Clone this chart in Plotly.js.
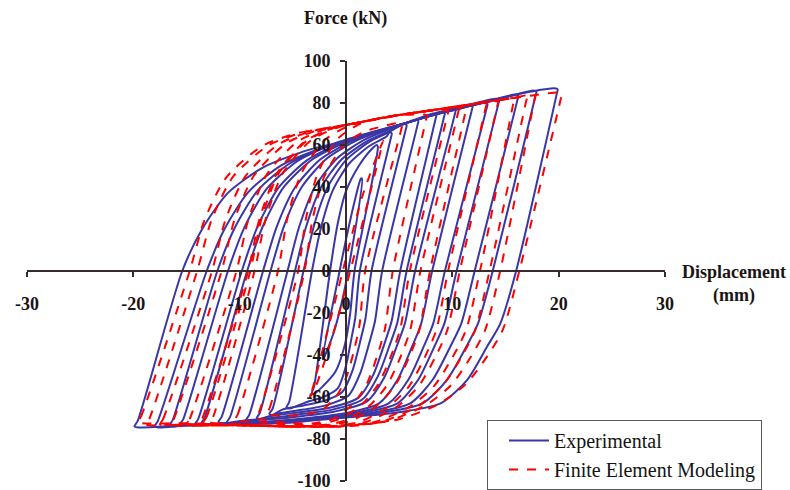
<!DOCTYPE html>
<html>
<head>
<meta charset="utf-8">
<script src="https://cdn.plot.ly/plotly-3.0.1.min.js"></script>
<style>html,body{margin:0;padding:0;background:#fff;}#chart{width:790px;height:490px;}</style>
</head>
<body>
<div id="chart"></div>
<script>
// ---- Data (displacement in mm, force in kN) ----
const xTicks = [-30, -20, -10, 0, 10, 20, 30];
const xTickText = ["-30", "-20", "-10", "0", "10", "20", "30"];
const yTicks = [-100, -80, -60, -40, -20, 0, 20, 40, 60, 80, 100];
const yTickText = ["-100", "-80", "-60", "-40", "-20", "0", "20", "40", "60", "80", "100"];

// Experimental hysteresis loops (one list per loop)
const expX = [
  [-2.2, -0.6, 0, 0.8, 1.4, 1.5, 0.2, -0.4, -1.2, -2.1, -2.2],
  [-3.2, -3.0, -1.5, -0.8, 0, 1.2, 2.4, 2.9, 3.0, 0.8, 0.4, -0.1, -1, -2.2, -3.0, -3.2],
  [-5.6, -5.35, -3.2, -2.36, -1.24, 0.3, 2.19, 3.8, 4.1, 4.3, 4.2, 1.3, 0.87, 0.53, -0.04, -0.76, -2.16, -3.5, -5.3, -5.6],
  [-7.2, -6.9, -4, -3.04, -1.76, 0, 2.16, 4, 5.4, 5.7, 5.6, 2.4, 1.82, 1.38, 0.61, -0.35, -2.21, -4, -6, -6.9, -7.2],
  [-8.4, -8.1, -4.8, -3.74, -2.34, -0.4, 1.98, 4, 6.5, 6.8, 6.7, 3.4, 2.73, 2.22, 1.33, 0.22, -1.93, -4, -6.5, -8, -8.4],
  [-9.4, -9.1, -5.5, -4.38, -2.9, -0.85, 1.66, 3.8, 6, 8.2, 8.5, 8.4, 5.1, 4.28, 3.64, 2.55, 1.19, -1.45, -4, -7, -9, -9.4],
  [-11.2, -10.9, -7.1, -5.83, -4.13, -1.8, 1.06, 3.5, 6, 9, 9.3, 9.2, 5.7, 4.83, 4.15, 2.98, 1.53, -1.28, -4, -7, -10, -10.8, -11.2],
  [-12, -11.7, -7.8, -6.5, -4.78, -2.4, 0.52, 3, 6, 10, 10.3, 10.2, 6.5, 5.55, 4.82, 3.56, 1.98, -1.06, -4, -7, -10, -11.6, -12],
  [-13.6, -13.3, -9.3, -7.82, -5.86, -3.15, 0.17, 3, 6, 9, 11.6, 11.9, 11.8, 8.1, 7.06, 6.24, 4.85, 3.11, -0.25, -3.5, -7, -11, -13.2, -13.6],
  [-14.2, -13.9, -9.8, -8.32, -6.36, -3.65, -0.33, 2.5, 6, 10, 13, 13.3, 13.2, 9.3, 8.19, 7.33, 5.86, 4.01, 0.44, -3, -6, -10, -13.8, -14.2],
  [-15.6, -15.3, -11.1, -9.53, -7.43, -4.55, -1.01, 2, 6, 10, 14.1, 14.4, 14.3, 10.4, 9.24, 8.34, 6.79, 4.85, 1.11, -2.5, -6, -10, -15.2, -15.6],
  [-16.6, -16.3, -12.1, -10.47, -8.29, -5.3, -1.63, 1.5, 4, 8, 12, 15.9, 16.2, 16.1, 12.1, 10.83, 9.84, 8.15, 6.04, 1.95, -2, -5, -10, -14, -16.2, -16.6],
  [-18, -17.7, -13.1, -11.4, -9.15, -6.05, -2.25, 1, 4, 8, 12, 16, 17.6, 17.9, 17.8, 13.8, 12.4, 11.35, 9.5, 7.2, 2.8, -1.5, -5, -10, -15, -17.6, -18],
  [-19.9, -19.6, -15.4, -13.55, -11.1, -7.7, -3.5, 0, 4, 8, 12, 16, 19.6, 19.9, 19.8, 16, 14.5, 13.3, 11.4, 8.9, 4, -0.6, -5, -10, -15, -19.5, -19.9]
];
const expY = [
  [-42, 0, 15, 33, 44, 44, 0, -15, -30, -41.5, -42],
  [-58, -55, 0, 22, 38, 50, 58, 60, 59, 0, -20, -35, -48, -55, -58.5, -58],
  [-65, -62.5, 0, 20.5, 38.4, 51.2, 59.5, 64, 66, 65.5, 63, 0, -22.3, -31.6, -45.9, -55.8, -60.1, -62, -65.5, -65],
  [-68, -65.5, 0, 21.1, 39.6, 52.8, 61.4, 66, 70, 69.5, 67, 0, -23, -32.6, -47.4, -57.6, -62.1, -64, -66, -68.5, -68],
  [-70, -67.5, 0, 21.3, 39.9, 53.2, 61.8, 66.5, 72, 71.5, 69, 0, -23.8, -33.7, -48.8, -59.4, -64, -66, -68, -70.5, -70],
  [-71, -68.5, 0, 21.4, 40.2, 53.6, 62.3, 67, 71, 75, 74.5, 72, 0, -24.1, -34.2, -49.6, -60.3, -65, -67, -69, -71.5, -71],
  [-72, -69.5, 0, 21.4, 40.2, 53.6, 62.3, 67, 71, 76, 75.5, 73, 0, -24.5, -34.7, -50.3, -61.2, -66, -68, -70, -71.5, -72.5, -72],
  [-72, -69.5, 0, 21.3, 39.9, 53.2, 61.8, 66.5, 71, 77, 76.5, 74, 0, -24.8, -35.2, -51.1, -62.1, -66.9, -69, -70.5, -71.5, -72.5, -72],
  [-72.5, -70, 0, 21.3, 39.9, 53.2, 61.8, 66.5, 71, 75.5, 79, 78.5, 76, 0, -25.2, -35.7, -51.8, -63, -67.9, -70, -71.5, -72.5, -73, -72.5],
  [-73, -70.5, 0, 21.1, 39.6, 52.8, 61.4, 66, 71, 77, 80, 79.5, 77, 0, -25.2, -35.7, -51.8, -63, -67.9, -70, -71.5, -72.5, -73.5, -73],
  [-73, -70.5, 0, 21, 39.3, 52.4, 60.9, 65.5, 71, 77, 82, 81.5, 79, 0, -25.2, -35.7, -51.8, -63, -67.9, -70, -71.5, -72.5, -73.5, -73],
  [-73.5, -71, 0, 20.5, 38.4, 51.2, 59.5, 64, 68, 74, 79, 84, 83.5, 81, 0, -25.2, -35.7, -51.8, -63, -67.9, -70, -71.5, -72.5, -73, -74, -73.5],
  [-74, -71.5, 0, 20.2, 37.8, 50.4, 58.6, 63, 68, 74, 79, 84, 86, 85.5, 83, 0, -25.2, -35.7, -51.8, -63, -67.9, -70, -72, -73, -73.5, -74.5, -74],
  [-74, -71.5, 0, 19.8, 37.2, 49.6, 57.7, 62, 68, 74, 79, 84, 87, 86.5, 84, 0, -25.2, -35.7, -51.8, -63, -67.9, -70, -72, -73, -73.5, -74.5, -74]
];

// Finite element modeling loops
const femX = [
  [-3.4, -3.2, -0.3, 1.5, 3.0, 3.5, 3.4, 0.4, -1.5, -3.0, -3.4],
  [-7.5, -7.2, -3.9, -3.16, -2.05, -0.2, 1.65, 3.5, 5, 5.3, 5.2, 1.8, 1.27, 0.74, 0.05, -0.85, -2.18, -3.5, -5.5, -7.1, -7.5],
  [-8.5, -8.2, -4.5, -3.75, -2.62, -0.75, 1.13, 3, 5, 7.3, 7.6, 7.5, 4.4, 3.66, 2.92, 1.96, 0.7, -1.15, -3, -5, -7, -8.1, -8.5],
  [-10.5, -10.2, -6.4, -5.51, -4.17, -1.95, 0.28, 2.5, 5, 7, 9.3, 9.6, 9.5, 6, 5.1, 4.2, 3.03, 1.5, -0.75, -3, -6, -8, -10.1, -10.5],
  [-12.8, -12.5, -8.6, -7.54, -5.95, -3.3, -0.65, 2, 5, 8, 10.3, 10.6, 10.5, 7, 6.05, 5.1, 3.86, 2.25, -0.13, -2.5, -6, -10, -12.4, -12.8],
  [-13.4, -13.1, -9, -7.95, -6.37, -3.75, -1.12, 1.5, 5, 8, 11, 11.3, 11.2, 7.9, 6.91, 5.92, 4.63, 2.95, 0.47, -2, -6, -10, -13, -13.4],
  [-13.8, -13.5, -9.2, -8.13, -6.52, -3.85, -1.17, 1.5, 4, 8, 12.9, 13.2, 13.1, 9.6, 8.49, 7.38, 5.94, 4.05, 1.27, -1.5, -6, -10, -13.4, -13.8],
  [-15, -14.7, -10.3, -9.17, -7.47, -4.65, -1.82, 1, 4, 8, 11, 14, 14.3, 14.2, 10.7, 9.53, 8.36, 6.84, 4.85, 1.92, -1, -5, -10, -14.6, -15],
  [-16.5, -16.2, -11.7, -10.48, -8.65, -5.6, -2.55, 0.5, 4, 8, 12, 15.5, 15.8, 15.7, 12.6, 11.29, 9.98, 8.28, 6.05, 2.77, -0.5, -5, -10, -16.1, -16.5],
  [-17.5, -17.2, -12.6, -11.34, -9.45, -6.3, -3.15, 0, 4, 8, 12, 16.7, 17, 16.9, 13.5, 12.15, 10.8, 9.04, 6.75, 3.37, 0, -5, -10, -15, -17.1, -17.5],
  [-18.8, -18.5, -14, -12.65, -10.62, -7.25, -3.87, -0.5, 4, 8, 12, 15, 17.5, 17.8, 17.7, 14.5, 13.1, 11.7, 9.88, 7.5, 4, 0.5, -5, -10, -15, -18.4, -18.8],
  [-19.6, -19.3, -14.7, -13.33, -11.27, -7.85, -4.42, -1, 4, 8, 12, 16, 20, 20.3, 20.2, 16.3, 14.77, 13.24, 11.25, 8.65, 4.83, 1, -5, -10, -15, -19.2, -19.6]
];
const femY = [
  [-60, -57, 0, 35, 56, 62, 60, 0, -35, -57, -60],
  [-68, -65.5, 0, 24.2, 44.9, 60, 66.2, 69, 70.5, 70, 67.5, 0, -25.8, -38.1, -50.3, -59.2, -66, -68, -69, -68.5, -68],
  [-70, -67.5, 0, 25.4, 47.1, 63.1, 69.6, 72.5, 74.2, 74.5, 74, 71.5, 0, -27.6, -40.6, -53.7, -63.1, -70.3, -72.5, -72.5, -71.5, -70.5, -70],
  [-71, -68.5, 0, 25.2, 46.8, 62.6, 69.1, 72, 74.2, 75.8, 76.5, 76, 73.5, 0, -27.7, -40.9, -54, -63.5, -70.8, -73, -73, -72, -71.5, -71],
  [-72, -69.5, 0, 25, 46.5, 62.2, 68.6, 71.5, 74.2, 76.5, 77.5, 77, 74.5, 0, -27.9, -41.2, -54.4, -63.9, -71.3, -73.5, -74, -73, -72.5, -72],
  [-72, -69.5, 0, 24.9, 46.2, 61.8, 68.2, 71, 74.2, 76.5, 78, 77.5, 75, 0, -27.9, -41.2, -54.4, -63.9, -71.3, -73.5, -74, -73.5, -72.5, -72],
  [-72.5, -70, 0, 24.9, 46.2, 61.8, 68.2, 71, 73.5, 76.5, 80, 79.5, 77, 0, -28.1, -41.4, -54.8, -64.4, -71.8, -74, -74, -73.5, -73, -72.5],
  [-73, -70.5, 0, 24.7, 45.8, 61.3, 67.7, 70.5, 73.5, 76.5, 78.8, 81, 80.5, 78, 0, -28.1, -41.4, -54.8, -64.4, -71.8, -74, -74, -73.5, -73.5, -73],
  [-73, -70.5, 0, 24.5, 45.5, 60.9, 67.2, 70, 73.5, 76.5, 79.5, 82, 81.5, 79, 0, -28.1, -41.4, -54.8, -64.4, -71.8, -74, -74, -73.5, -73.5, -73],
  [-73, -70.5, 0, 24.3, 45.2, 60.5, 66.7, 69.5, 73.5, 76.5, 79.5, 83, 82.5, 80, 0, -28.1, -41.4, -54.8, -64.4, -71.8, -74, -74, -73.5, -73, -73.5, -73],
  [-73, -70.5, 0, 24.2, 44.9, 60, 66.2, 69, 73.5, 76.5, 79.5, 81.8, 84, 83.5, 81, 0, -27.9, -41.2, -54.4, -63.9, -71.3, -73.5, -74, -73.5, -73, -73.5, -73],
  [-72, -69.5, 0, 24, 44.5, 59.6, 65.8, 68.5, 73.5, 76.5, 79.5, 82.5, 85, 84.5, 82, 0, -27.7, -40.9, -54, -63.5, -70.8, -73, -74, -73, -72.5, -72.5, -72]
];

const seriesNames = ["Experimental", "Finite Element Modeling"];

// join loops into one trace per series, separated by gaps
function joinLoops(loops) {
  const out = [];
  loops.forEach((loop, i) => {
    if (i > 0) out.push(null);
    loop.forEach(v => out.push(v));
  });
  return out;
}

const serif = "'Liberation Serif', 'Times New Roman', serif";
const axisColor = "#3b2a2c";

const traces = [
  {
    x: joinLoops(expX), y: joinLoops(expY), name: seriesNames[0],
    type: "scatter", mode: "lines", connectgaps: false,
    line: {color: "#3a36a6", width: 2, shape: "spline", smoothing: 0.7}
  },
  {
    x: joinLoops(femX), y: joinLoops(femY), name: seriesNames[1],
    type: "scatter", mode: "lines", connectgaps: false,
    line: {color: "#ff0000", width: 2, dash: "dash", shape: "spline", smoothing: 0.7}
  }
];

const tickFont = {family: serif, size: 18, color: "#1a1414", weight: "bold"};

const layout = {
  width: 790, height: 490,
  margin: {l: 27, r: 125, t: 61, b: 9, pad: 0, autoexpand: false},
  paper_bgcolor: "#ffffff", plot_bgcolor: "#ffffff",
  showlegend: true,
  xaxis: {
    range: [-30, 30], anchor: "free", position: 0.5,
    showline: true, linecolor: axisColor, linewidth: 2,
    ticks: "outside", ticklen: 5, tickwidth: 2, tickcolor: axisColor,
    tickvals: xTicks, ticktext: xTickText, tickfont: tickFont,
    ticklabelstandoff: 11, ticklabeloverflow: "allow",
    showgrid: false, zeroline: false, fixedrange: true
  },
  yaxis: {
    range: [-100, 100], anchor: "free", position: 0.5,
    showline: true, linecolor: axisColor, linewidth: 2,
    ticks: "outside", ticklen: 5, tickwidth: 2, tickcolor: axisColor,
    tickvals: yTicks, ticktext: yTickText, tickfont: tickFont,
    ticklabelstandoff: 6, ticklabeloverflow: "allow",
    showgrid: false, zeroline: false, fixedrange: true
  },
  legend: {
    x: 0.721, y: 0.145, xanchor: "left", yanchor: "top",
    bgcolor: "#ffffff", bordercolor: "#5a5a5a", borderwidth: 1,
    font: {family: serif, size: 20, color: "#141414"},
    indentation: 16, itemwidth: 40, tracegroupgap: 0
  },
  annotations: [
    {text: "<b>Force (kN)</b>", xref: "paper", yref: "paper", x: 0.499, y: 1.1,
     showarrow: false, xanchor: "center", yanchor: "middle",
     font: {family: serif, size: 18, color: "#1a1414"}},
    {text: "<b>Displacement</b><br><b>(mm)</b>", xref: "paper", yref: "paper", x: 1.108, y: 0.47,
     showarrow: false, xanchor: "center", yanchor: "middle", align: "center",
     font: {family: serif, size: 18, color: "#1a1414"}}
  ]
};

Plotly.newPlot("chart", traces, layout, {displayModeBar: false, staticPlot: true});
</script>
</body>
</html>
